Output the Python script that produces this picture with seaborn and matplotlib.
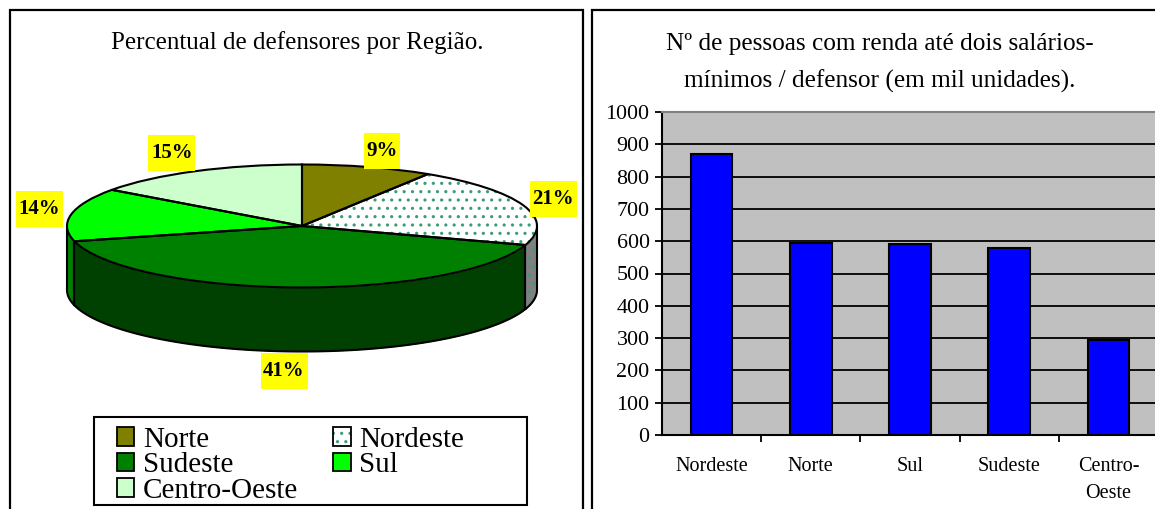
import numpy as np
import pandas as pd
import matplotlib
matplotlib.use("Agg")
import matplotlib.pyplot as plt
from matplotlib.patches import Rectangle, Patch
import seaborn as sns

# ---- data
pie_title = "Percentual de defensores por Região."
regions = ["Norte", "Nordeste", "Sudeste", "Sul", "Centro-Oeste"]
shares = [9, 21, 41, 14, 15]
top_colors = ["#808000", "#FFFFFF", "#008000", "#00FF00", "#CCFFCC"]
side_colors = ["#404000", "#808080", "#004000", "#008000", "#669966"]

bar_title = "Nº de pessoas com renda até dois salários-\nmínimos / defensor (em mil unidades)."
bar_regions = ["Nordeste", "Norte", "Sul", "Sudeste", "Centro-\nOeste"]
bar_values = [870, 595, 590, 578, 293]
y_ticks = list(range(0, 1001, 100))

W, H = 1155, 509
sns.set_theme(style="white")
plt.rcParams["font.family"] = ["Liberation Serif", "DejaVu Serif"]
plt.rcParams["hatch.linewidth"] = 1.1
fig = plt.figure(figsize=(W / 100, H / 100), dpi=100, facecolor="white")


def box(x0, y0, x1, y1):
    return [x0 / W, 1 - y1 / H, (x1 - x0) / W, (y1 - y0) / H]


def frame(x0, y0, x1, y1, **kw):
    fig.add_artist(Rectangle((x0 / W, 1 - y1 / H), (x1 - x0) / W, (y1 - y0) / H,
                             transform=fig.transFigure, **kw))


# panel frames
frame(9.5, 10, 583, 520, fc="none", ec="black", lw=1.6)
frame(591.5, 10, 1165, 520, fc="none", ec="black", lw=1.6)

# ---- pie (elliptical top with a side wall)
cx, cy, rx, ry, depth = 302, 226, 235, 61.5, 64
ax = fig.add_axes(box(cx - rx * 1.1, cy - ry * 1.1, cx + rx * 1.1, cy + ry * 1.1 + depth), facecolor="none")

edges = np.cumsum([0] + shares) / sum(shares) * 360
d = depth / ry
for i, (a, b) in enumerate(zip(edges[:-1], edges[1:])):
    lo, hi = max(a, 90), min(b, 270)
    if lo >= hi:
        continue
    t = np.radians(np.linspace(lo, hi, 80))
    xs, ys = np.sin(t), np.cos(t)
    ax.fill_between(xs, ys, ys - d, color=side_colors[i], lw=0, zorder=1)
    ax.plot(xs, ys - d, color="black", lw=1.5, zorder=2)
    ax.plot([xs[0], xs[0]], [ys[0], ys[0] - d], color="black", lw=1.5, zorder=2)
    ax.plot([xs[-1], xs[-1]], [ys[-1], ys[-1] - d], color="black", lw=1.5, zorder=2)
    if regions[i] == "Nordeste":
        ax.fill_between(xs, ys, ys - d, facecolor="none", edgecolor="#3C9C78", hatch="..", lw=0, zorder=1.5)

wedges, _ = ax.pie(shares, colors=top_colors, startangle=90, counterclock=False, radius=1,
                   wedgeprops=dict(lw=0, zorder=3))
wedges[1].set(hatch="..", edgecolor="#3C9C78", linewidth=0)
outline, _ = ax.pie(shares, colors=top_colors, startangle=90, counterclock=False, radius=1,
                    wedgeprops=dict(fill=False, ec="black", lw=1.5, zorder=4))
ax.set_aspect("auto")
ax.set_xlim(-1.1, 1.1)
ax.set_ylim(-1.1 - d, 1.1)
ax.axis("off")

fig.text(297 / W, 1 - 43 / H, pie_title, ha="center", va="center", fontsize=18, color="black")

label_pos = [(382, 151), (553, 199), (284, 371), (39, 209), (172, 153)]
label_w = [36, 47, 47, 47, 47]
for (lx, ly), v, w in zip(label_pos, shares, label_w):
    frame(lx - w / 2, ly - 18, lx + w / 2, ly + 18, fc="#FFFF00", ec="none")
    fig.text(lx / W, 1 - ly / H, f"{v}%", ha="center", va="center", fontsize=15,
             fontweight="bold", color="black")

handles = []
for r, c in zip(regions, top_colors):
    if r == "Nordeste":
        handles.append(Patch(fc=c, ec="#3C9C78", hatch="..", lw=0, label=r))
    else:
        handles.append(Patch(fc=c, ec="black", lw=1.3, label=r))
# legend box and column-wise order so rows read Norte/Nordeste, Sudeste/Sul, Centro-Oeste
frame(94, 417, 527, 505, fc="white", ec="black", lw=1.5)
order = [0, 2, 4, 1, 3]
leg = fig.legend([handles[i] for i in order], [regions[i] for i in order], ncol=2,
                 loc="upper left", bbox_to_anchor=(116.5 / W, 1 - 427 / H), borderaxespad=0,
                 fontsize=21, frameon=False, labelcolor="black",
                 handlelength=0.6, handleheight=0.6, handletextpad=0.3, labelspacing=-0.02,
                 columnspacing=1.2, borderpad=0)
for h, name in zip(leg.legend_handles, [regions[i] for i in order]):
    if name == "Nordeste":
        fig.canvas.draw()
        ext = h.get_window_extent()
        fig.add_artist(Rectangle((ext.x0 / W, ext.y0 / H), ext.width / W, ext.height / H,
                                 transform=fig.transFigure, fc="none", ec="black", lw=1.3, zorder=10))

# ---- bars
ax2 = fig.add_axes(box(662, 112, 1158, 435), facecolor="#C0C0C0")
df = pd.DataFrame({"regiao": bar_regions, "valor": bar_values})
sns.barplot(data=df, x="regiao", y="valor", order=bar_regions, color="#0000FF", saturation=1,
            width=0.42, edgecolor="black", linewidth=1.5, ax=ax2, zorder=3)
ax2.set_xlim(-0.5, 4.5)
ax2.set_ylim(0, 1000)
ax2.set_xlabel("")
ax2.set_ylabel("")
ax2.set_yticks(y_ticks)
ax2.yaxis.grid(True, color="black", lw=1.3, zorder=1)
ax2.set_axisbelow(True)
ax2.tick_params(axis="y", left=True, length=5, width=1.3, color="black", labelsize=15.8, pad=4, labelcolor="black")
ax2.tick_params(axis="x", which="major", bottom=False, labelsize=14.5, pad=10, labelcolor="black")
for t in ax2.get_xticklabels():
    t.set_linespacing(1.55)
ax2.set_xticks(np.arange(0.5, 4.5, 1), minor=True)
ax2.tick_params(axis="x", which="minor", bottom=True, length=5, width=1.3, color="black")
for s in ("left", "bottom"):
    ax2.spines[s].set(color="black", lw=1.5)
ax2.spines["top"].set(color="#808080", lw=1.5)
ax2.spines["right"].set_visible(False)

fig.text(880 / W, 1 - 63 / H, bar_title, ha="center", va="center", fontsize=18.2,
         linespacing=1.76, color="black")

fig.savefig("out.png", dpi=100)
